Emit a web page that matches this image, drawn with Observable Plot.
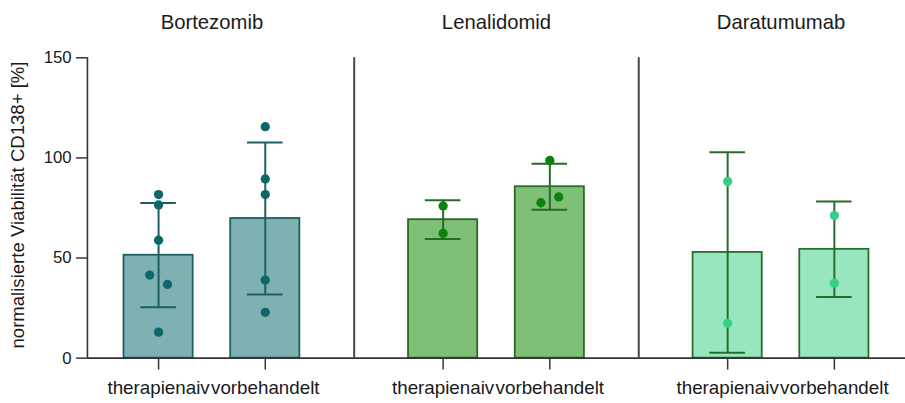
<!DOCTYPE html>
<html>
<head>
<meta charset="utf-8">
<script src="https://cdn.jsdelivr.net/npm/d3@7"></script>
<script src="https://cdn.jsdelivr.net/npm/@observablehq/plot@0.6"></script>
<style>
  html, body { margin: 0; padding: 0; background: #fff; overflow: hidden; }
  #chart { width: 905px; height: 403px; overflow: hidden; }
</style>
</head>
<body>
<div id="chart"></div>
<script>
// Drugs (panels) and patient groups (bars within each panel)
const drugs = ["Bortezomib", "Lenalidomid", "Daratumumab"];
const groups = ["therapienaiv", "vorbehandelt"];

// Normalised CD138+ viability of each sample [%]
const bortezomibNaiv = [81.7, 76.5, 58.9, 41.5, 36.8, 13.0];
const bortezomibVorbehandelt = [115.6, 89.5, 81.7, 39.0, 22.9];
const lenalidomidNaiv = [76.0, 62.3];
const lenalidomidVorbehandelt = [98.7, 77.6, 80.5];
const daratumumabNaiv = [88.2, 17.4];
const daratumumabVorbehandelt = [71.2, 37.5];

const yTicks = [0, 50, 100, 150];
const yLabel = "normalisierte Viabilität CD138+ [%]";

// Samples per drug, in the order of `groups`
const samples = {
  Bortezomib: [bortezomibNaiv, bortezomibVorbehandelt],
  Lenalidomid: [lenalidomidNaiv, lenalidomidVorbehandelt],
  Daratumumab: [daratumumabNaiv, daratumumabVorbehandelt]
};

// Colours per drug: bar fill, outline / error bar, sample dots
const palette = {
  Bortezomib:  {fill: "#7fb1b3", line: "#1d5e65", dot: "#0d676a"},
  Lenalidomid: {fill: "#80bf78", line: "#246b24", dot: "#0b820b"},
  Daratumumab: {fill: "#97e6be", line: "#2a6b2a", dot: "#33cf88"}
};

// Horizontal layout in x units: bars of a drug 3 apart, drugs 8 apart
const drugStep = 8, groupStep = 3;
const barHalf = 35 / 36, capHalf = 0.5, spread = 0.25;
const overlap = 5; // samples closer than this (in %) are put side by side
const xDomain = [-2, (drugs.length - 1) * drugStep + groupStep + 2];

// Mean ± SD per bar
const bars = drugs.flatMap((drug, d) => groups.map((group, g) => {
  const values = samples[drug][g];
  const mean = d3.mean(values), sd = d3.deviation(values);
  return {drug, group, values, pos: d * drugStep + g * groupStep, mean, lo: mean - sd, hi: mean + sd};
}));

// Individual samples, nudged left/right where two would overlap
const dots = bars.flatMap(b => b.values.map((v, i) => {
  const j = b.values.findIndex((w, k) => k !== i && Math.abs(w - v) < overlap);
  const side = j < 0 ? 0 : (i < j ? -1 : 1);
  return {drug: b.drug, value: v, x: b.pos + side * spread};
}));

const groupAt = new Map(bars.map(b => [b.pos, b.group]));
const separators = drugs.slice(1).map((_, d) => d * drugStep + (groupStep + drugStep) / 2);
const axisColor = "#333";

const chart = Plot.plot({
  width: 916,
  height: 403,
  marginLeft: 88,
  marginRight: 0,
  marginTop: 58,
  marginBottom: 41,
  x: {domain: xDomain},
  y: {domain: [0, 150]},
  color: {type: "identity"},
  style: {fontFamily: "'Liberation Sans', Arial, sans-serif", color: "#1a1a1a", background: "#fff"},
  marks: [
    Plot.rect(bars, {
      x1: d => d.pos - barHalf, x2: d => d.pos + barHalf, y1: 0, y2: "mean",
      fill: d => palette[d.drug].fill, stroke: d => palette[d.drug].line, strokeWidth: 1.8
    }),
    Plot.ruleX(bars, {x: "pos", y1: "lo", y2: "hi", stroke: d => palette[d.drug].line, strokeWidth: 2}),
    Plot.ruleY(bars, {y: "hi", x1: d => d.pos - capHalf, x2: d => d.pos + capHalf, stroke: d => palette[d.drug].line, strokeWidth: 2}),
    Plot.ruleY(bars, {y: "lo", x1: d => d.pos - capHalf, x2: d => d.pos + capHalf, stroke: d => palette[d.drug].line, strokeWidth: 2}),
    Plot.dot(dots, {x: "x", y: "value", r: 4.7, fill: d => palette[d.drug].dot, stroke: null}),
    Plot.ruleY([0], {stroke: axisColor, strokeWidth: 1.6}),
    Plot.ruleX([xDomain[0]], {y1: 0, y2: 150, stroke: axisColor, strokeWidth: 1.6}),
    Plot.ruleX(separators, {y1: 0, y2: 150, stroke: "#444", strokeWidth: 2}),
    Plot.axisY({ticks: yTicks, tickSize: 11, tickPadding: 5, fontSize: 17, stroke: axisColor, strokeWidth: 1.5, label: null}),
    Plot.axisX(bars.map(b => b.pos), {
      tickFormat: p => groupAt.get(p), tickSize: 12, tickPadding: 11, fontSize: 19,
      stroke: axisColor, strokeWidth: 1.5, label: null
    }),
    Plot.text(drugs, {
      x: (d, i) => i * drugStep + groupStep / 2, text: d => d,
      frameAnchor: "top", lineAnchor: "bottom", dy: -29, fontSize: 20.5
    }),
    Plot.text([yLabel], {
      text: d => d, frameAnchor: "left", textAnchor: "middle", lineAnchor: "middle",
      rotate: -90, dx: -70, dy: -3, fontSize: 18.8
    })
  ]
});

document.getElementById("chart").appendChild(chart);
</script>
</body>
</html>
